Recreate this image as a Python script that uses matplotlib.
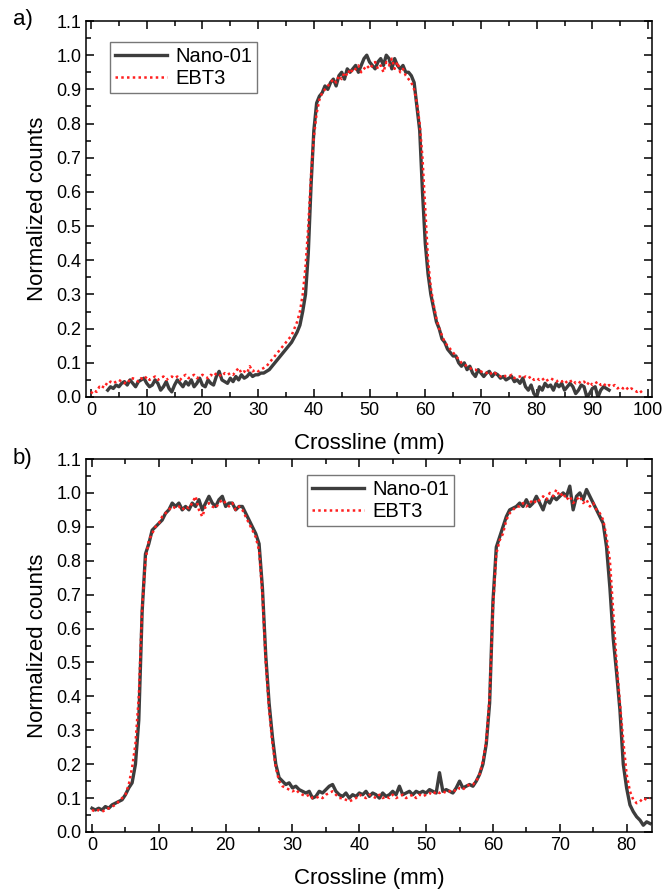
import numpy as np
import matplotlib
matplotlib.use("Agg")
import matplotlib.pyplot as plt
from matplotlib.ticker import MultipleLocator

plt.rcParams['font.family'] = ['Liberation Sans', 'DejaVu Sans']

# ---------------- Data ----------------
# Panel a: sampled every 0.5 mm
nano_a_start, ebt3_a_start, step_a = 3.0, 0.0, 0.5
nano_a = [
    0.02, 0.03, 0.025, 0.035, 0.03, 0.04, 0.045, 0.035, 0.05, 0.04,      # 3.0
    0.03, 0.045, 0.05, 0.055, 0.04, 0.03, 0.035, 0.05, 0.04, 0.02,       # 8.0
    0.03, 0.045, 0.025, 0.015, 0.035, 0.05, 0.04, 0.03, 0.045, 0.035,    # 13.0
    0.05, 0.03, 0.04, 0.055, 0.035, 0.03, 0.05, 0.04, 0.035, 0.06,       # 18.0
    0.075, 0.05, 0.045, 0.04, 0.055, 0.045, 0.06, 0.05, 0.065, 0.055,    # 23.0
    0.06, 0.07, 0.06, 0.065, 0.065, 0.07, 0.07, 0.075, 0.08, 0.09,       # 28.0
    0.10, 0.11, 0.12, 0.13, 0.14, 0.15, 0.16, 0.175, 0.19, 0.21,         # 33.0
    0.25, 0.30, 0.42, 0.62, 0.78, 0.86, 0.88, 0.89, 0.91, 0.90,          # 38.0
    0.92, 0.93, 0.91, 0.94, 0.95, 0.93, 0.96, 0.95, 0.96, 0.97,          # 43.0
    0.95, 0.97, 0.99, 1.00, 0.98, 0.97, 0.96, 0.98, 0.99, 0.97,          # 48.0
    1.00, 0.99, 0.96, 0.99, 0.97, 0.96, 0.97, 0.95, 0.95, 0.94,          # 53.0
    0.92, 0.85, 0.78, 0.60, 0.45, 0.36, 0.30, 0.26, 0.22, 0.20,          # 58.0
    0.17, 0.16, 0.14, 0.13, 0.12, 0.12, 0.10, 0.09, 0.10, 0.08,          # 63.0
    0.09, 0.07, 0.06, 0.08, 0.07, 0.06, 0.07, 0.075, 0.06, 0.07,         # 68.0
    0.065, 0.055, 0.06, 0.05, 0.055, 0.06, 0.045, 0.05, 0.04, 0.055,     # 73.0
    0.03, 0.02, 0.035, 0.01, 0.0, 0.03, 0.02, 0.04, 0.03, 0.035,         # 78.0
    0.02, 0.04, 0.03, 0.04, 0.02, 0.03, 0.04, 0.03, 0.01, 0.02,          # 83.0
    0.035, 0.03, 0.0, 0.01, 0.025, 0.03, 0.0, 0.02, 0.03, 0.025,         # 88.0
    0.02,                                                                # 93.0
]
ebt3_a = [
    0.01, 0.02, 0.015, 0.03, 0.025, 0.04, 0.035, 0.045, 0.04, 0.045,     # 0.0
    0.05, 0.045, 0.04, 0.05, 0.045, 0.055, 0.05, 0.045, 0.055, 0.05,     # 5.0
    0.06, 0.05, 0.055, 0.06, 0.05, 0.055, 0.06, 0.05, 0.055, 0.06,       # 10.0
    0.055, 0.06, 0.05, 0.06, 0.065, 0.055, 0.06, 0.065, 0.055, 0.06,     # 15.0
    0.065, 0.06, 0.055, 0.065, 0.06, 0.07, 0.065, 0.06, 0.07, 0.065,     # 20.0
    0.07, 0.065, 0.075, 0.085, 0.07, 0.075, 0.07, 0.09, 0.075, 0.08,     # 25.0
    0.075, 0.08, 0.085, 0.09, 0.10, 0.11, 0.12, 0.13, 0.14, 0.15,        # 30.0
    0.16, 0.17, 0.18, 0.20, 0.22, 0.25, 0.30, 0.38, 0.50, 0.65,          # 35.0
    0.76, 0.83, 0.87, 0.89, 0.90, 0.91, 0.92, 0.93, 0.92, 0.94,          # 40.0
    0.93, 0.95, 0.94, 0.96, 0.95, 0.96, 0.97, 0.95, 0.96, 0.97,          # 45.0
    0.96, 0.97, 0.98, 0.96, 0.97, 0.95, 0.98, 0.97, 0.99, 0.96,          # 50.0
    0.98, 0.95, 0.96, 0.94, 0.93, 0.92, 0.90, 0.86, 0.80, 0.70,          # 55.0
    0.55, 0.40, 0.32, 0.27, 0.23, 0.20, 0.18, 0.16, 0.15, 0.14,          # 60.0
    0.13, 0.12, 0.11, 0.10, 0.095, 0.09, 0.085, 0.08, 0.08, 0.075,       # 65.0
    0.075, 0.07, 0.07, 0.075, 0.065, 0.07, 0.065, 0.06, 0.065, 0.06,     # 70.0
    0.06, 0.065, 0.055, 0.06, 0.06, 0.055, 0.06, 0.055, 0.06, 0.05,      # 75.0
    0.055, 0.05, 0.055, 0.045, 0.05, 0.055, 0.05, 0.045, 0.05, 0.045,    # 80.0
    0.05, 0.04, 0.045, 0.05, 0.04, 0.045, 0.04, 0.045, 0.035, 0.045,     # 85.0
    0.035, 0.04, 0.045, 0.035, 0.04, 0.03, 0.035, 0.03, 0.035, 0.025,    # 90.0
    0.03, 0.025, 0.03, 0.02, 0.025, 0.02, 0.015, 0.02, 0.01,             # 95.0
]

# Panel b: sampled every 0.5 mm from 0 mm
nano_b_start, ebt3_b_start, step_b = 0.0, 0.0, 0.5
nano_b = [
    0.07, 0.065, 0.07, 0.065, 0.075, 0.07, 0.08, 0.085, 0.09, 0.095,     # 0.0
    0.11, 0.13, 0.145, 0.20, 0.33, 0.65, 0.82, 0.85, 0.89, 0.90,         # 5.0
    0.91, 0.92, 0.94, 0.95, 0.97, 0.96, 0.97, 0.95, 0.96, 0.95,          # 10.0
    0.97, 0.96, 0.98, 0.95, 0.97, 0.99, 0.97, 0.96, 0.98, 0.99,          # 15.0
    0.96, 0.97, 0.97, 0.95, 0.96, 0.96, 0.94, 0.92, 0.90, 0.88,          # 20.0
    0.85, 0.72, 0.52, 0.38, 0.28, 0.20, 0.16, 0.15, 0.14, 0.145,         # 25.0
    0.13, 0.135, 0.125, 0.12, 0.115, 0.12, 0.10, 0.105, 0.12, 0.115,     # 30.0
    0.125, 0.135, 0.14, 0.12, 0.11, 0.105, 0.115, 0.10, 0.11, 0.105,     # 35.0
    0.115, 0.11, 0.12, 0.105, 0.115, 0.11, 0.10, 0.115, 0.105, 0.11,     # 40.0
    0.12, 0.11, 0.135, 0.11, 0.115, 0.12, 0.11, 0.12, 0.115, 0.12,       # 45.0
    0.115, 0.125, 0.12, 0.115, 0.175, 0.12, 0.125, 0.12, 0.115, 0.13,    # 50.0
    0.15, 0.13, 0.135, 0.14, 0.135, 0.15, 0.17, 0.20, 0.26, 0.38,        # 55.0
    0.68, 0.84, 0.87, 0.90, 0.93, 0.95, 0.955, 0.96, 0.97, 0.96,         # 60.0
    0.98, 0.96, 0.97, 0.99, 0.97, 0.95, 0.98, 0.97, 0.99, 0.98,          # 65.0
    0.99, 1.00, 0.99, 1.02, 0.95, 0.99, 1.00, 0.98, 1.01, 0.99,          # 70.0
    0.97, 0.95, 0.93, 0.91, 0.84, 0.72, 0.57, 0.47, 0.36, 0.20,          # 75.0
    0.13, 0.08, 0.06, 0.045, 0.035, 0.02, 0.03, 0.025,                   # 80.0
]
ebt3_b = [
    0.065, 0.06, 0.065, 0.06, 0.065, 0.07, 0.075, 0.08, 0.09, 0.10,      # 0.0
    0.11, 0.14, 0.19, 0.26, 0.40, 0.66, 0.80, 0.86, 0.88, 0.90,          # 5.0
    0.91, 0.93, 0.94, 0.95, 0.96, 0.955, 0.96, 0.95, 0.96, 0.955,        # 10.0
    0.97, 0.99, 0.95, 0.93, 0.96, 0.97, 0.96, 0.955, 0.97, 0.98,         # 15.0
    0.97, 0.96, 0.97, 0.95, 0.96, 0.95, 0.93, 0.91, 0.89, 0.87,          # 20.0
    0.83, 0.70, 0.50, 0.36, 0.26, 0.19, 0.15, 0.135, 0.13, 0.125,        # 25.0
    0.12, 0.125, 0.115, 0.11, 0.105, 0.11, 0.10, 0.10, 0.105, 0.10,      # 30.0
    0.11, 0.115, 0.12, 0.11, 0.10, 0.10, 0.095, 0.09, 0.095, 0.10,       # 35.0
    0.11, 0.105, 0.10, 0.11, 0.105, 0.10, 0.11, 0.10, 0.105, 0.10,       # 40.0
    0.11, 0.10, 0.105, 0.11, 0.10, 0.105, 0.11, 0.10, 0.11, 0.105,       # 45.0
    0.11, 0.115, 0.11, 0.12, 0.115, 0.12, 0.115, 0.12, 0.125, 0.12,      # 50.0
    0.13, 0.125, 0.135, 0.14, 0.14, 0.15, 0.17, 0.21, 0.27, 0.40,        # 55.0
    0.66, 0.82, 0.86, 0.88, 0.92, 0.94, 0.95, 0.96, 0.96, 0.97,          # 60.0
    0.96, 0.97, 0.98, 0.97, 0.98, 0.99, 0.98, 1.00, 0.99, 1.01,          # 65.0
    0.99, 1.00, 0.98, 0.99, 0.97, 0.98, 0.99, 0.97, 0.98, 0.96,          # 70.0
    0.97, 0.95, 0.94, 0.92, 0.87, 0.80, 0.65, 0.50, 0.38, 0.27,          # 75.0
    0.17, 0.12, 0.095, 0.085, 0.09, 0.10, 0.095, 0.10,                   # 80.0
]

series_labels = ["Nano-01", "EBT3"]
panel_labels = ["a)", "b)"]
x_label = "Crossline (mm)"
y_label = "Normalized counts"

# ---------------- Styling ----------------
W, H = 662, 889
fig = plt.figure(figsize=(W / 100, H / 100), dpi=100)

gray = "#3d3d3d"
red = "#ff1f1f"

def px_axes(l, t, r, b):
    return fig.add_axes([l / W, 1 - b / H, (r - l) / W, (b - t) / H])

def style(ax, xlim, xmaj):
    ax.set_ylim(0, 1.1)
    ax.set_xlim(*xlim)
    ax.xaxis.set_major_locator(MultipleLocator(xmaj))
    ax.xaxis.set_minor_locator(MultipleLocator(xmaj / 2))
    ax.yaxis.set_major_locator(MultipleLocator(0.1))
    ax.yaxis.set_minor_locator(MultipleLocator(0.05))
    ax.yaxis.set_major_formatter(matplotlib.ticker.FormatStrFormatter('%.1f'))
    ax.tick_params(which='both', direction='in', top=True, right=True,
                   labelsize=13, width=1.1, colors='black')
    ax.tick_params(which='major', length=6)
    ax.tick_params(which='minor', length=3.5)
    for s in ax.spines.values():
        s.set_linewidth(1.1)
    ax.set_xlabel(x_label, fontsize=16, labelpad=10)
    ax.set_ylabel(y_label, fontsize=16, labelpad=6)

def xs(start, step, vals):
    return start + step * np.arange(len(vals))

# Panel a
ax1 = px_axes(86, 21, 652, 397)
ax1.plot(xs(nano_a_start, step_a, nano_a), nano_a, color=gray, lw=2.4,
         label=series_labels[0], zorder=2)
ax1.plot(xs(ebt3_a_start, step_a, ebt3_a), ebt3_a, color=red, lw=1.8,
         ls=(0, (1, 1.3)), label=series_labels[1], zorder=3)
style(ax1, (-0.9, 100.7), 10)
leg1 = ax1.legend(loc='upper left', bbox_to_anchor=(24 / 566, 1 - 21 / 376),
                  fontsize=14.5, frameon=True, fancybox=False, edgecolor='#555555',
                  handlelength=2.6, handletextpad=0.4, borderpad=0.25,
                  labelspacing=0.15, borderaxespad=0)
leg1.get_frame().set_linewidth(1.0)

# Panel b
ax2 = px_axes(86, 459, 652, 832)
ax2.plot(xs(nano_b_start, step_b, nano_b), nano_b, color=gray, lw=2.4,
         label=series_labels[0], zorder=2)
ax2.plot(xs(ebt3_b_start, step_b, ebt3_b), ebt3_b, color=red, lw=1.8,
         ls=(0, (1, 1.3)), label=series_labels[1], zorder=3)
style(ax2, (-0.9, 83.8), 10)
leg2 = ax2.legend(loc='upper left', bbox_to_anchor=((307 - 86) / 566, 1 - (475 - 459) / 373),
                  fontsize=14.5, frameon=True, fancybox=False, edgecolor='#555555',
                  handlelength=2.6, handletextpad=0.4, borderpad=0.25,
                  labelspacing=0.15, borderaxespad=0)
leg2.get_frame().set_linewidth(1.0)

fig.text(13 / W, 1 - 20 / H, panel_labels[0], fontsize=16, va='center', ha='left')
fig.text(13 / W, 1 - 459 / H, panel_labels[1], fontsize=16, va='center', ha='left')

fig.savefig("out.png", dpi=100)
